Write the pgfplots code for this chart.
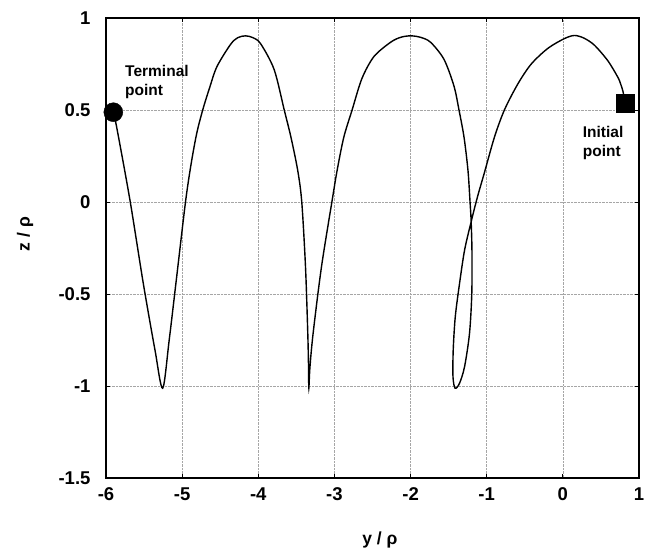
\documentclass[border=0pt]{standalone}
\usepackage{pgfplots}
\pgfplotsset{compat=1.18}
\usepackage{fontspec}
\setmainfont{Liberation Sans}

\begin{document}
\begin{tikzpicture}
\begin{axis}[
  width=533pt, height=460pt,
  scale only axis,
  xmin=-6, xmax=1, ymin=-1.5, ymax=1,
  xtick={-6,-5,-4,-3,-2,-1,0,1},
  xticklabels={-6,-5,-4,-3,-2,-1,0,1},
  ytick={-1.5,-1,-0.5,0,0.5,1},
  yticklabels={-1.5,-1,-0.5,0,0.5,1},
  ticklabel style={font=\fontsize{18.5}{20}\selectfont\bfseries},
  yticklabel style={xshift=-12pt},
  xticklabel style={yshift=-6pt},
  grid=major,
  grid style={densely dotted, gray!70, line width=0.6pt},
  axis line style={line width=1.2pt},
  tick style={black, line width=0.8pt},
  tick align=inside,
  major tick length=4pt,
  xlabel={y / ρ},
  ylabel={z / ρ},
  label style={font=\fontsize{17.5}{20}\selectfont\bfseries},
  xlabel style={at={(axis description cs:0.514,-0.135)}, anchor=center},
  ylabel style={at={(axis description cs:-0.152,0.53)}, anchor=center},
  clip=false,
]
\addplot[black, line width=1.4pt, smooth, tension=0.5] coordinates {
(0.821,0.535) (0.79,0.60) (0.76,0.64) (0.722,0.678) (0.59,0.768) (0.415,0.852)
(0.28,0.89) (0.154,0.905) (0.02,0.888) (-0.197,0.835) (-0.417,0.749) (-0.592,0.641)
(-0.768,0.5) (-0.899,0.352) (-1.03,0.16) (-1.12,0.03) (-1.20,-0.10)
(-1.29,-0.26) (-1.357,-0.443) (-1.413,-0.624) (-1.440,-0.804) (-1.443,-0.95)
(-1.415,-1.012) (-1.357,-0.985) (-1.291,-0.895) (-1.226,-0.714) (-1.196,-0.497)
(-1.194,-0.262) (-1.205,-0.10) (-1.219,0) (-1.246,0.171) (-1.298,0.352)
(-1.364,0.5) (-1.43,0.63) (-1.561,0.775) (-1.737,0.868) (-1.87,0.895)
(-2.0,0.903) (-2.13,0.895) (-2.263,0.868) (-2.482,0.79) (-2.64,0.67)
(-2.768,0.5) (-2.877,0.352) (-2.965,0.171) (-3.03,0.009) (-3.17,-0.352)
(-3.28,-0.714) (-3.322,-0.90) (-3.336,-1.012) (-3.34,-0.90) (-3.35,-0.714)
(-3.38,-0.352) (-3.429,0) (-3.482,0.171) (-3.571,0.352) (-3.659,0.5)
(-3.792,0.72) (-3.969,0.86) (-4.07,0.893) (-4.168,0.903) (-4.27,0.893)
(-4.367,0.855) (-4.544,0.735) (-4.64,0.62) (-4.73,0.5) (-4.81,0.37)
(-4.885,0.2) (-4.956,0) (-5.07,-0.40) (-5.17,-0.75) (-5.256,-1.012)
(-5.357,-0.804) (-5.51,-0.443) (-5.685,0.009) (-5.86,0.407) (-5.904,0.488)
};
\addplot[only marks, mark=square*, mark size=9pt, black] coordinates {(0.821,0.535)};
\addplot[only marks, mark=*, mark size=9.5pt, black] coordinates {(-5.904,0.488)};
\node[anchor=north west, align=left, inner sep=0pt,
  font=\fontsize{15.5}{19}\selectfont\bfseries] at (axis cs:-5.75,0.745) {Terminal\\point};
\node[anchor=north west, align=left, inner sep=0pt,
  font=\fontsize{15.5}{19}\selectfont\bfseries] at (axis cs:0.26,0.415) {Initial\\point};
\end{axis}
\pgfresetboundingbox
\path (current axis.south west) ++(-106pt,-72pt) rectangle ([shift={(18pt,18pt)}]current axis.north east);
\end{tikzpicture}
\end{document}
